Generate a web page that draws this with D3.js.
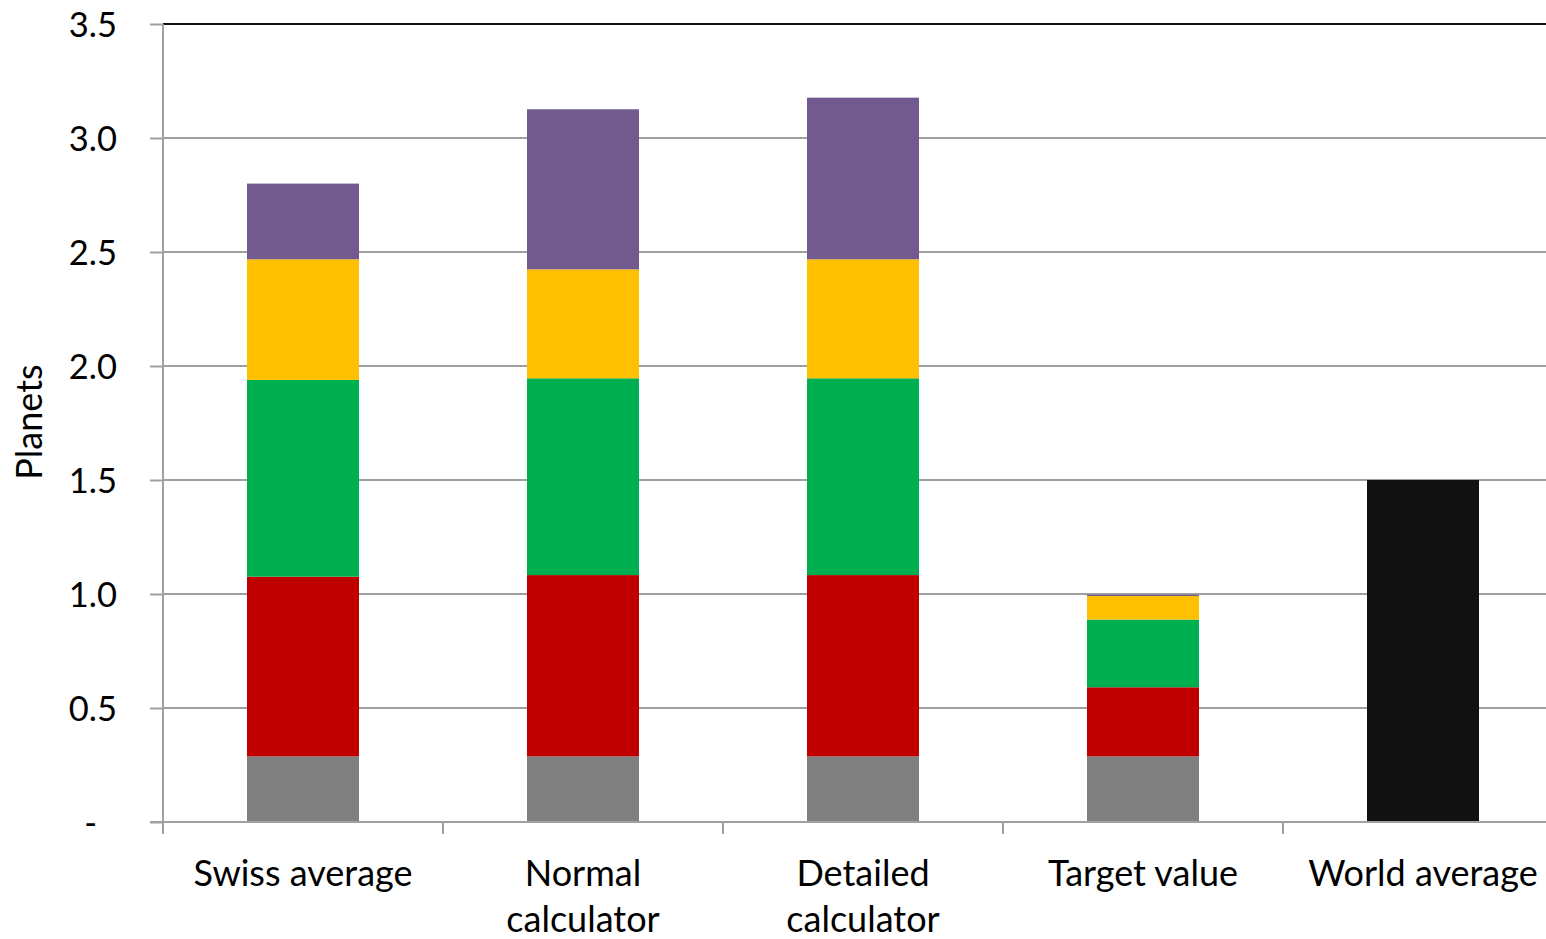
<!DOCTYPE html>
<html>
<head>
<meta charset="utf-8">
<script src="https://cdn.jsdelivr.net/npm/d3@7"></script>
<style>
  html, body { margin: 0; padding: 0; background: #fff; }
  svg { display: block; }
  text { font-family: Lato, "Open Sans", sans-serif; fill: #000; }
</style>
</head>
<body>
<svg id="chart" width="1546" height="939"></svg>
<script>
// ---- data ----
const categories = ["Swiss average", "Normal calculator", "Detailed calculator", "Target value", "World average"];
const greySeries   = [0.288, 0.288, 0.288, 0.288, 0];
const redSeries    = [0.788, 0.795, 0.795, 0.303, 0];
const greenSeries  = [0.863, 0.863, 0.863, 0.297, 0];
const yellowSeries = [0.529, 0.478, 0.522, 0.103, 0];
const purpleSeries = [0.332, 0.702, 0.709, 0.006, 0];
const worldSeries  = [0, 0, 0, 0, 1.5];
const yTickValues  = [0, 0.5, 1.0, 1.5, 2.0, 2.5, 3.0, 3.5];
const yTickLabels  = ["-", "0.5", "1.0", "1.5", "2.0", "2.5", "3.0", "3.5"];
const yTitle = "Planets";

const seriesKeys = ["grey", "red", "green", "yellow", "purple", "world"];
const seriesColors = {
  grey: "#808080", red: "#C00000", green: "#00B050",
  yellow: "#FFC000", purple: "#725A8F", world: "#111111"
};
const seriesValues = {
  grey: greySeries, red: redSeries, green: greenSeries,
  yellow: yellowSeries, purple: purpleSeries, world: worldSeries
};

const table = categories.map((c, i) => {
  const row = { category: c };
  seriesKeys.forEach(k => row[k] = seriesValues[k][i]);
  return row;
});

// ---- layout ----
const svg = d3.select("#chart");
const plotLeft = 163, plotRight = 1563, plotTop = 24, plotBottom = 822;
const tickFont = 34.5;
const labelFont = 36;

const x = d3.scaleBand().domain(categories).range([plotLeft, plotRight])
  .paddingInner(0.6).paddingOuter(0.3);
const step = x.step();
const y = d3.scaleLinear().domain([0, 3.5]).range([plotBottom, plotTop]);

const gridColor = "#A0A0A0";

// gridlines
svg.append("g").selectAll("line")
  .data(yTickValues.filter(v => v > 0 && v < 3.5))
  .join("line")
  .attr("x1", plotLeft).attr("x2", plotRight)
  .attr("y1", d => y(d)).attr("y2", d => y(d))
  .attr("stroke", gridColor).attr("stroke-width", 2);

// top border line
svg.append("line")
  .attr("x1", plotLeft).attr("x2", plotRight)
  .attr("y1", y(3.5)).attr("y2", y(3.5))
  .attr("stroke", "#111").attr("stroke-width", 2);

// y axis
const yAxis = d3.axisLeft(y).tickValues(yTickValues)
  .tickFormat((d, i) => yTickLabels[i] === "-" ? "-\u2007" : yTickLabels[i])
  .tickSize(13).tickPadding(33);
const gy = svg.append("g").attr("transform", `translate(${plotLeft},0)`).call(yAxis);
gy.select(".domain").remove();
gy.selectAll(".tick line").attr("stroke", gridColor).attr("stroke-width", 2);
gy.selectAll(".tick text")
  .attr("font-size", tickFont).attr("font-family", "Lato, sans-serif")
  .attr("fill", "#000").attr("dy", "0.36em");

// bars
const stacked = d3.stack().keys(seriesKeys)(table);
svg.append("g").selectAll("g")
  .data(stacked)
  .join("g")
  .attr("fill", d => seriesColors[d.key])
  .selectAll("rect")
  .data(d => d.filter(s => s[1] - s[0] > 0))
  .join("rect")
  .attr("x", d => x(d.data.category))
  .attr("width", x.bandwidth())
  .attr("y", d => y(d[1]))
  .attr("height", d => y(d[0]) - y(d[1]));

// y axis line
svg.append("line")
  .attr("x1", plotLeft).attr("x2", plotLeft)
  .attr("y1", plotTop).attr("y2", plotBottom + 12)
  .attr("stroke", gridColor).attr("stroke-width", 2);

// x axis
const xBounds = d3.range(categories.length + 1).map(i => plotLeft + i * step);
svg.append("line")
  .attr("x1", plotLeft - 13).attr("x2", plotRight)
  .attr("y1", plotBottom).attr("y2", plotBottom)
  .attr("stroke", gridColor).attr("stroke-width", 2);
svg.append("g").selectAll("line")
  .data(xBounds)
  .join("line")
  .attr("x1", d => d).attr("x2", d => d)
  .attr("y1", plotBottom).attr("y2", plotBottom + 12)
  .attr("stroke", gridColor).attr("stroke-width", 2);

// category labels (wrapped when wider than the available band space)
const labelG = svg.append("g");
categories.forEach(c => {
  const cx = x(c) + x.bandwidth() / 2;
  const t = labelG.append("text")
    .attr("x", cx).attr("y", 886)
    .attr("text-anchor", "middle")
    .attr("font-size", labelFont)
    .text(c);
  if (t.node().getComputedTextLength() > step * 0.9) {
    const words = c.split(" ");
    t.text(null);
    words.forEach((w, i) => {
      t.append("tspan").attr("x", cx).attr("y", 886 + i * 46).text(w);
    });
  }
});

// y title
svg.append("text")
  .attr("transform", "translate(42,422) rotate(-90)")
  .attr("text-anchor", "middle")
  .attr("font-size", labelFont)
  .text(yTitle);
</script>
</body>
</html>
